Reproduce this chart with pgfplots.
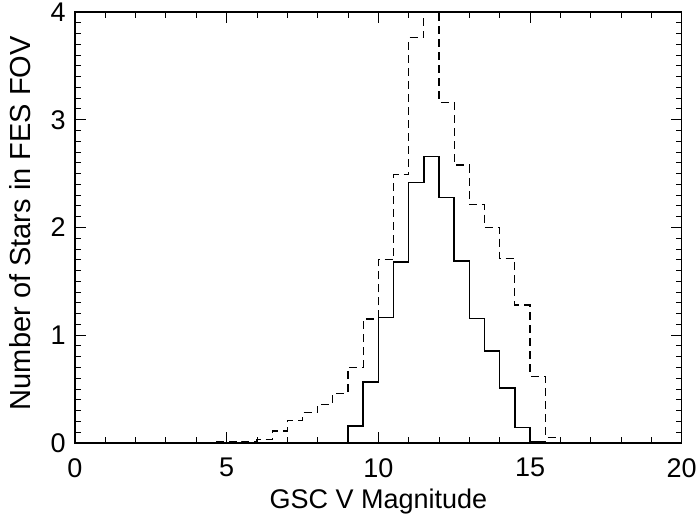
\documentclass[border=0pt]{standalone}
\usepackage{pgfplots}
\pgfplotsset{compat=1.18}
\usepackage{fontspec}
\setmainfont{Liberation Sans}
\begin{document}
\begin{tikzpicture}
\fontsize{13.5pt}{16pt}\selectfont
\begin{axis}[
  scale only axis,
  width=303.4pt, height=215.5pt,
  xmin=0, xmax=20, ymin=0, ymax=4,
  xtick={0,5,10,15,20}, ytick={0,1,2,3,4},
  minor x tick num=4, minor y tick num=9,
  tick align=inside,
  major tick length=5.5pt, minor tick length=2.8pt,
  tick style={line width=0.5pt, black},
  axis line style={line width=0.6pt},
  xticklabel style={yshift=-3pt},
  /pgf/number format/assume math mode=true,
  tick label style={font=\fontsize{13.5pt}{16pt}\selectfont},
  label style={font=\fontsize{13.5pt}{16pt}\selectfont},
  xlabel={GSC V Magnitude},
  ylabel={Number of Stars in FES FOV},
  xlabel style={at={(axis description cs:0.5,-0.135)}, anchor=center},
  ylabel style={at={(axis description cs:-0.0906,0.51)}, anchor=center,
    font=\fontsize{14.5pt}{17pt}\selectfont},
  clip=true,
]
% histogram (solid)
\addplot[const plot, black, line width=0.7pt] coordinates {
  (0,0) (9,0.158) (9.5,0.566) (10,1.166) (10.5,1.68) (11,2.415) (11.5,2.66)
  (12,2.28) (12.5,1.69) (13,1.157) (13.5,0.854) (14,0.508) (14.5,0.142)
  (15,0.012) (15.5,0) (20,0)
};
% histogram (dashed)
\addplot[const plot, black, line width=0.6pt, dash pattern=on 4pt off 2.5pt] coordinates {
  (0,0) (2.5,0.005) (3,0.005) (3.5,0) (4,0.005) (4.5,0.008) (5,0.01) (5.5,0.013)
  (6,0.03) (6.5,0.11) (7,0.21) (7.5,0.28) (8,0.36) (8.5,0.46) (9,0.70)
  (9.5,1.15) (10,1.70) (10.5,2.49) (11,3.76) (11.5,4.1) (12,3.16) (12.5,2.58)
  (13,2.215) (13.5,2.0) (14,1.71) (14.5,1.28) (15,0.62) (15.5,0.05) (16,0) (20,0)
};
\coordinate (ll) at (rel axis cs:0,0);
\coordinate (ur) at (rel axis cs:1,1);
\end{axis}
\pgfresetboundingbox
\path ([shift={(-37.5pt,-36.5pt)}]ll) rectangle ([shift={(7.15pt,6pt)}]ur);
\end{tikzpicture}
\end{document}
